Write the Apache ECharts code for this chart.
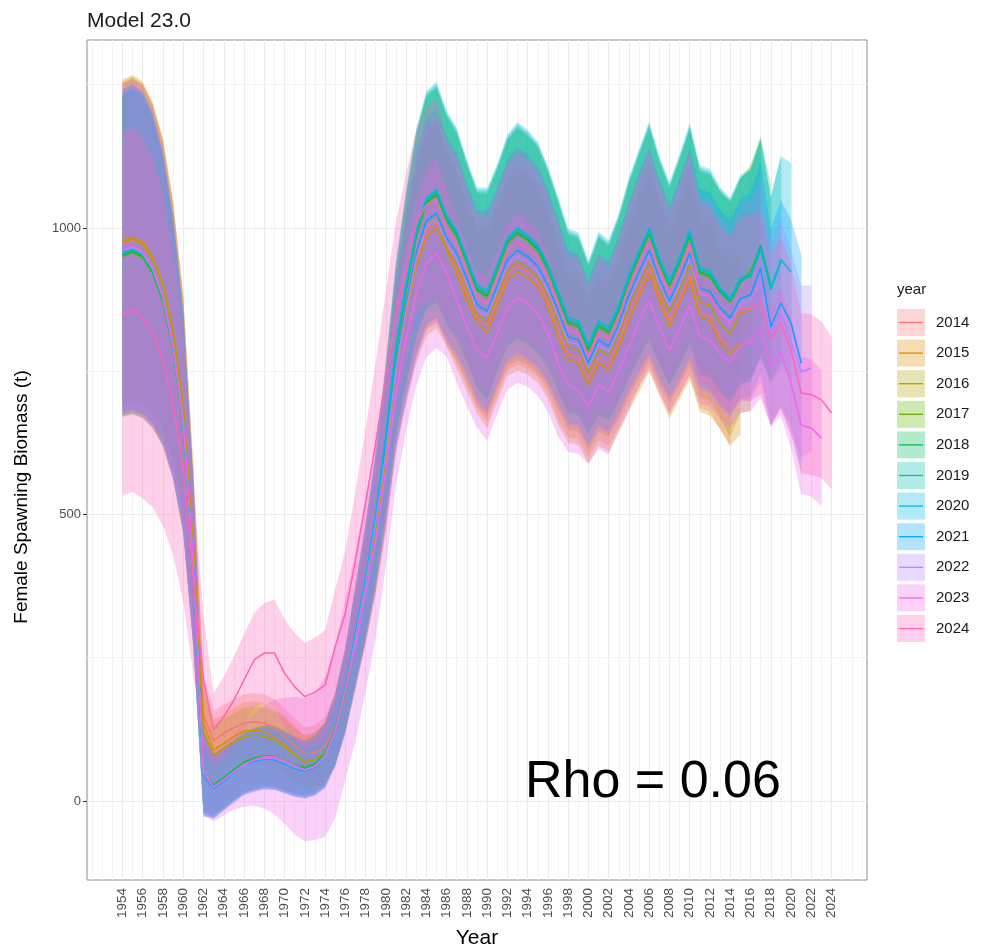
<!DOCTYPE html>
<html><head><meta charset="utf-8">
<script src="https://cdn.jsdelivr.net/npm/echarts@6/dist/echarts.min.js"></script>
<style>html,body{margin:0;padding:0;background:#fff}#c{width:981px;height:950px}</style>
</head><body><div id="c"></div>
<script>
const years = [1954,1955,1956,1957,1958,1959,1960,1961,1962,1963,1964,1965,1966,1967,1968,1969,1970,1971,1972,1973,1974,1975,1976,1977,1978,1979,1980,1981,1982,1983,1984,1985,1986,1987,1988,1989,1990,1991,1992,1993,1994,1995,1996,1997,1998,1999,2000,2001,2002,2003,2004,2005,2006,2007,2008,2009,2010,2011,2012,2013,2014,2015,2016,2017,2018,2019,2020,2021,2022,2023,2024];
const peels = ['2014','2015','2016','2017','2018','2019','2020','2021','2022','2023','2024'];
const xTickLabels = [1954,1956,1958,1960,1962,1964,1966,1968,1970,1972,1974,1976,1978,1980,1982,1984,1986,1988,1990,1992,1994,1996,1998,2000,2002,2004,2006,2008,2010,2012,2014,2016,2018,2020,2022,2024];
const yTickLabels = [0,500,1000];

// mean spawning biomass per retrospective peel
const mean2014 = [972,978,970,944,900,818,690,440,150,105, 118,128,136,138,136,128,112,96,82,84, 95,130,192,282,372,472,598,760,860,942, 995,1010,972,931,884,844,828,872,919,933, 924,907,872,820,780,774,736,774,762,802, 849,890,931,884,837,878,918,852,845,808, 790];
const mean2015 = [979,984,976,949,904,822,694,440,136,89, 100,112,122,124,121,112,98,82,68,72, 84,120,185,275,365,465,590,752,851,932, 985,1000,962,921,874,834,817,862,909,923, 914,897,862,810,770,764,726,764,752,792, 839,880,921,874,827,868,910,845,838,800, 780,800];
const mean2016 = [975,981,972,946,900,818,690,435,120,80, 92,103,112,115,113,106,94,80,68,72, 84,122,188,280,372,475,605,765,866,950, 1002,1018,963,936,892,848,837,881,925,941, 930,914,881,837,793,788,748,788,777,815, 864,903,941,892,854,893,937,870,865,832, 815,852,856];
const mean2017 = [950,957,948,920,870,786,656,406,54,28, 41,55,68,75,79,78,71,63,58,65, 83,127,197,291,385,492,630,784,890,984, 1042,1056,1012,984,937,890,879,925,972,989, 977,960,925,879,832,827,785,827,815,855, 907,949,989,937,897,938,984,920,914,887, 870,905,925,967];
const mean2018 = [952,959,950,922,872,788,658,408,52,27, 40,54,67,74,78,77,70,62,57,64, 82,126,196,290,384,492,632,786,893,987, 1045,1059,1015,987,940,893,882,928,975,992, 980,963,928,882,835,830,788,830,818,858, 910,952,992,940,900,941,987,923,917,889, 872,906,918,970,900];
const mean2019 = [955,962,953,925,875,790,660,410,50,25, 38,52,65,72,76,75,68,60,55,62, 80,125,195,290,385,495,635,790,897,991, 1049,1063,1019,991,944,897,886,932,979,996, 984,967,932,886,839,834,792,834,822,862, 914,956,996,944,904,945,991,927,921,892, 874,909,915,962,892,941];
const mean2020 = [958,965,956,928,878,792,662,412,48,22, 36,50,63,70,74,73,66,58,53,60, 78,124,195,292,388,500,640,795,902,995, 1053,1067,1023,995,948,901,890,936,983,1000, 988,971,936,890,843,838,796,838,826,866, 918,960,1000,948,908,949,995,931,925,896, 878,913,919,965,895,945,923];
const mean2021 = [962,968,958,930,880,794,663,412,45,22, 35,49,62,69,73,72,65,57,52,59, 77,121,190,282,375,482,613,762,866,956, 1012,1026,983,956,911,866,855,899,945,961, 950,933,899,855,810,805,764,805,793,832, 882,923,961,911,872,912,956,895,889,861, 843,877,883,930,827,869,834,764];
const mean2022 = [960,966,956,928,878,792,661,411,48,24, 37,51,64,71,75,74,67,59,54,61, 79,123,192,284,377,484,606,754,857,946, 1002,1015,973,946,902,857,846,890,935,951, 940,923,890,846,801,796,756,796,785,823, 873,913,951,902,863,902,946,885,880,852, 835,868,874,905,815,850,800,749,755];
const mean2023 = [962,968,958,930,880,795,665,415,55,24, 37,50,62,72,77,77,70,62,54,60, 77,120,194,270,360,455,575,712,805,886, 939,956,921,874,827,787,773,817,862,878, 869,851,817,764,726,717,688,726,714,752, 792,839,874,827,787,825,865,810,805,780, 765,795,800,825,757,782,730,656,651,633];
const mean2024 = [848,857,843,817,770,694,578,390,211,124, 147,176,211,246,258,258,223,199,182,190, 202,269,328,420,520,625,740,850,930,1010, 1040,1051,999,971,925,879,868,913,959,976, 964,948,913,868,822,817,776,817,806,845, 896,937,976,925,886,926,971,890,880,850, 830,860,860,870,805,834,787,712,709,700,677];

// half-width of the confidence band per peel
const hw2014 = [280,283,280,270,252,225,190,140,72,53, 50,50,50,50,50,50,50,48,46,48, 52,59,68,81,93,106,122,141,157,169, 173,175,169,167,160,158,167,164,167,172, 170,167,160,153,145,143,137,144,142,149, 158,166,173,166,160,167,175,166,166,160, 170];
const hw2015 = [280,283,280,270,252,225,190,140,72,53, 50,50,50,50,50,50,50,48,46,48, 52,59,68,81,93,106,122,141,157,169, 173,175,169,167,160,158,167,164,167,172, 170,167,160,153,145,143,137,144,142,149, 158,166,173,166,160,167,175,166,166,150, 160,160];
const hw2016 = [280,283,280,270,252,225,190,140,72,53, 50,50,50,50,50,50,50,48,46,48, 52,59,68,81,93,106,122,141,157,169, 173,175,169,167,160,158,167,164,167,172, 170,167,160,153,145,143,137,144,142,149, 158,166,173,166,160,167,175,166,166,163, 180,175,175];
const hw2017 = [280,283,280,270,252,225,190,140,72,53, 52,52,52,53,53,53,52,50,48,50, 55,62,72,85,98,112,128,148,165,178, 186,188,182,180,172,170,180,176,180,185, 183,180,172,165,156,154,147,155,153,160, 170,178,186,178,172,180,188,178,178,175, 175,180,185,190];
const hw2018 = [280,283,280,270,252,225,190,140,72,53, 52,52,52,53,53,53,52,50,48,50, 55,62,72,85,98,112,128,148,165,178, 186,188,182,180,172,170,180,176,180,185, 183,180,172,165,156,154,147,155,153,160, 170,178,186,178,172,180,188,178,178,175, 175,180,185,190,175];
const hw2019 = [280,283,280,270,252,225,190,140,72,53, 52,52,52,53,53,53,52,50,48,50, 55,62,72,85,98,112,128,148,165,178, 186,188,182,180,172,170,180,176,180,185, 183,180,172,165,156,154,147,155,153,160, 170,178,186,178,172,180,188,178,178,175, 175,180,185,190,160,185];
const hw2020 = [280,283,280,270,252,225,190,140,72,53, 52,52,52,53,53,53,52,50,48,50, 55,62,72,85,98,112,128,148,165,178, 186,188,182,180,172,170,180,176,180,185, 183,180,172,165,156,154,147,155,153,160, 170,178,186,178,172,180,188,178,178,175, 175,180,185,190,160,180,190];
const hw2021 = [280,283,280,270,252,225,190,140,72,53, 52,52,52,53,53,53,52,50,48,50, 55,62,72,85,98,112,128,148,165,178, 180,182,177,175,167,165,175,171,175,179, 178,175,167,160,151,149,143,150,148,155, 165,173,180,173,167,175,182,173,173,170, 170,175,179,185,170,180,180,190];
const hw2022 = [280,283,280,270,252,225,190,140,72,53, 52,52,52,53,53,53,52,50,48,50, 55,62,72,85,98,112,128,148,165,178, 177,179,173,171,163,162,171,167,171,176, 174,171,163,157,148,146,140,147,145,152, 162,169,177,169,163,171,179,169,169,166, 166,171,176,175,160,165,160,150,145];
const hw2023 = [290,292,290,280,262,235,198,145,80,60, 62,65,72,80,90,100,110,120,125,128, 140,150,158,165,170,170,165,160,160,162, 165,165,146,144,138,136,144,141,144,148, 146,144,138,128,117,111,100,112,110,105, 111,116,121,116,112,117,122,116,116,114, 114,117,120,122,104,110,115,120,120,118];
const hw2024 = [315,318,315,305,290,265,230,170,110,64, 70,76,80,82,88,93,94,94,94,95, 96,100,110,120,130,140,150,160,165,160, 170,175,160,158,151,150,158,155,158,163, 161,158,151,145,137,136,129,136,135,141, 150,157,164,157,151,158,165,157,157,154, 154,158,163,160,150,150,148,140,140,137,133];

const colors = ['#F8766D','#DB8E00','#AEA200','#64B200','#00BD5C','#00C1A7','#00BADE','#00A6FF','#B385FF','#EF67EB','#FF63B6'];
const means = {'2014':mean2014,'2015':mean2015,'2016':mean2016,'2017':mean2017,'2018':mean2018,'2019':mean2019,'2020':mean2020,'2021':mean2021,'2022':mean2022,'2023':mean2023,'2024':mean2024};
const hws = {'2014':hw2014,'2015':hw2015,'2016':hw2016,'2017':hw2017,'2018':hw2018,'2019':hw2019,'2020':hw2020,'2021':hw2021,'2022':hw2022,'2023':hw2023,'2024':hw2024};

const ALPHA = 0.3;
function rgba(hex, a){const r=parseInt(hex.slice(1,3),16),g=parseInt(hex.slice(3,5),16),b=parseInt(hex.slice(5,7),16);return `rgba(${r},${g},${b},${a})`;}
const FONT = 'Liberation Sans, Arial, Helvetica, sans-serif';

const series = [];
// grid lines, placed through the axes
const vLines = [];
for (let y = 1951; y <= 2027; y++) vLines.push({xAxis: y, lineStyle:{color: (y%2===0 && y>=1954 && y<=2024) ? '#EBEBEB' : '#F3F3F3', width: 1}});
const hLines = [0,500,1000].map(v=>({yAxis:v, lineStyle:{color:'#EBEBEB', width:1.2}})).concat([250,750,1250].map(v=>({yAxis:v, lineStyle:{color:'#F3F3F3', width:1}})));
series.push({type:'scatter', name:'grid', data:[[2000,500]], symbolSize:0, silent:true, z:1,
  markLine:{z:1, silent:true, symbol:['none','none'], label:{show:false}, animation:false, lineStyle:{type:'solid'}, data: vLines.concat(hLines)}});

// confidence ribbons: one polygon per peel, vertices mapped through the axes
peels.forEach((p,i)=>{
  const m = means[p], h = hws[p];
  const rows = m.map((v,j)=>[years[j], v - h[j], v + h[j]]);
  series.push({type:'custom', name:p, coordinateSystem:'cartesian2d', silent:true, z:2,
    data:[[rows[0][0], rows[0][1]]], encode:{x:0, y:1},
    itemStyle:{color: rgba(colors[i], ALPHA)},
    renderItem: function(params, api){
      const pts = [];
      for (let j=0;j<rows.length;j++) pts.push(api.coord([rows[j][0], rows[j][1]]));
      for (let j=rows.length-1;j>=0;j--) pts.push(api.coord([rows[j][0], rows[j][2]]));
      return {type:'polygon', shape:{points:pts}, style:{fill: rgba(colors[i], ALPHA), stroke:null}};
    }});
});
peels.forEach((p,i)=>{
  series.push({type:'line', name:p, symbol:'none', silent:true, z:3,
    lineStyle:{color: colors[i], width:1.5}, data: means[p].map((v,j)=>[years[j], v])});
});

const graphics = [
  {type:'text', left:525, top:757, z:50, style:{text:'Rho = 0.06', font:'52px '+FONT, fill:'#000'}},
  {type:'text', left:897, top:282, style:{text:'year', font:'15px '+FONT, fill:'#1a1a1a'}},
  {type:'text', x:22, y:497, rotation:Math.PI/2, style:{text:'Female Spawning Biomass (t)', font:'19px '+FONT, fill:'#000', align:'center', verticalAlign:'middle'}}
];
peels.forEach((p,i)=>{
  const cy = 322.5 + 30.6*i;
  graphics.push({type:'line', shape:{x1:899, y1:cy, x2:923, y2:cy}, style:{stroke: colors[i], lineWidth:1.3}, z:100});
});

const chart = echarts.init(document.getElementById('c'), null, {renderer:'canvas'});
chart.setOption({
  animation:false,
  backgroundColor:'#fff',
  title:{text:'Model 23.0', left:82, top:6, textStyle:{fontSize:21, fontWeight:'normal', color:'#1a1a1a', fontFamily:FONT}},
  grid:{left:87, top:40, width:780, height:840, show:true, borderColor:'#8c8c8c', borderWidth:1, backgroundColor:'#fff', outerBoundsMode:'none', containLabel:false},
  xAxis:{type:'value', min:1950.5, max:2027.5, name:'Year', nameLocation:'middle', nameGap:48,
    nameTextStyle:{fontSize:21, color:'#000', fontFamily:FONT},
    axisLine:{show:false}, splitLine:{show:false},
    axisTick:{show:true, customValues:xTickLabels, length:4, lineStyle:{color:'#333'}},
    axisLabel:{customValues:xTickLabels, rotate:90, fontSize:13.5, color:'#4d4d4d', margin:8, fontFamily:FONT, formatter:v=>String(v)}},
  yAxis:{type:'value', min:-138, max:1328,
    axisLine:{show:false}, splitLine:{show:false},
    axisTick:{show:true, customValues:yTickLabels, length:4, lineStyle:{color:'#333'}},
    axisLabel:{customValues:yTickLabels, fontSize:13, color:'#4d4d4d', margin:6, fontFamily:FONT, formatter:v=>String(v)}},
  legend:{orient:'vertical', left:897, top:309, padding:0, itemWidth:28, itemHeight:27, itemGap:3.6, selectedMode:false,
    textStyle:{fontSize:15, color:'#1a1a1a', fontFamily:FONT, padding:[0,0,0,6]},
    data: peels.map((p,i)=>({name:p, icon:'rect', itemStyle:{color: rgba(colors[i], ALPHA), borderWidth:0}}))},
  graphic: graphics,
  series: series
});
</script>
</body></html>
